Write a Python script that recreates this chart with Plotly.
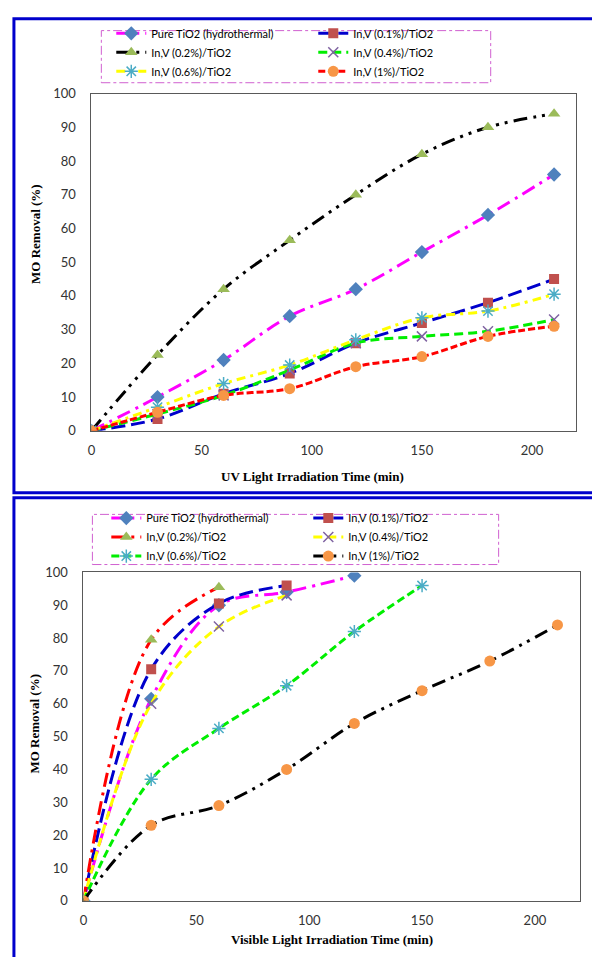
import plotly.graph_objects as go

# ---- data: MO removal (%) vs irradiation time (min) ----
series_names = ["Pure TiO2 (hydrothermal)", "In,V (0.1%)/TiO2", "In,V (0.2%)/TiO2",
                "In,V (0.4%)/TiO2", "In,V (0.6%)/TiO2", "In,V (1%)/TiO2"]

# UV light
uv_time = [0, 30, 60, 90, 120, 150, 180, 210]
uv_pure = [0, 10, 21, 34, 42, 53, 64, 76]
uv_01 = [0, 3.5, 11, 17, 26, 32, 38, 45]
uv_02 = [0, 22.5, 42, 56.5, 70, 82, 90, 94]
uv_04 = [0, 5, 10.5, 18, 26, 28, 29.5, 33]
uv_06 = [0, 7, 14, 19.5, 27, 33.5, 35.5, 40.5]
uv_1 = [0, 5.5, 10.5, 12.5, 19, 22, 28, 31]

# Visible light
vis_time_pure = [0, 30, 60, 90, 120]
vis_pure = [0, 61.5, 90, 94, 99]
vis_time_01 = [0, 30, 60, 90]
vis_01 = [0, 70.5, 90.5, 96]
vis_time_02 = [0, 30, 60]
vis_02 = [0, 79.5, 95.5]
vis_time_04 = [0, 30, 60, 90]
vis_04 = [0, 60, 83.5, 93]
vis_time_06 = [0, 30, 60, 90, 120, 150]
vis_06 = [0, 37, 52.5, 65.5, 82, 96]
vis_time_1 = [0, 30, 60, 90, 120, 150, 180, 210]
vis_1 = [0, 23, 29, 40, 54, 64, 73, 84]

y_ticks = list(range(0, 101, 10))
x_ticks = [0, 50, 100, 150, 200]

# ---- styles ----
W, H = 592, 957
MAGENTA, BLUE, BLACK, GREEN, YELLOW, RED = "#FF00FF", "#0000CC", "#000000", "#00EE00", "#FFFF00", "#FF0000"
DASH_DOT = "14px,6px,3px,6px"
LONG_DASH = "14px,6px"
LONG_DASH_DOT_DOT = "14px,6px,3px,6px,3px,6px"
DASH = "9px,5px"
SHORT_DASH = "7px,3px"

mk_diamond = dict(symbol="diamond", size=11, color="#4F81BD")
mk_square = dict(symbol="square", size=10, color="#C0504D")
mk_triangle = dict(symbol="triangle-up", size=11, color="#9BBB59")
mk_x = dict(symbol="x-thin", size=10, color="#8064A2", line=dict(color="#8064A2", width=1.5))
mk_star = dict(symbol="asterisk", size=11, color="#4BACC6", line=dict(color="#4BACC6", width=1.5))
mk_circle = dict(symbol="circle", size=11, color="#F79646")


def px_x(p):
    return p / W


def px_y(p):
    return 1 - p / H


fig = go.Figure()


def add(x, y, name, color, dash, marker, axis, legend):
    fig.add_trace(go.Scatter(
        x=x, y=y, name=name, mode="lines+markers",
        line=dict(color=color, width=3, dash=dash, shape="spline", smoothing=1),
        marker=marker, xaxis="x" + axis, yaxis="y" + axis, legend=legend,
    ))


# UV panel
add(uv_time, uv_pure, series_names[0], MAGENTA, DASH_DOT, mk_diamond, "", "legend")
add(uv_time, uv_01, series_names[1], BLUE, LONG_DASH, mk_square, "", "legend")
add(uv_time, uv_02, series_names[2], BLACK, LONG_DASH_DOT_DOT, mk_triangle, "", "legend")
add(uv_time, uv_04, series_names[3], GREEN, DASH, mk_x, "", "legend")
add(uv_time, uv_06, series_names[4], YELLOW, "9px,5px,3px,5px", mk_star, "", "legend")
add(uv_time, uv_1, series_names[5], RED, SHORT_DASH, mk_circle, "", "legend")

# Visible panel
add(vis_time_pure, vis_pure, series_names[0], MAGENTA, DASH_DOT, mk_diamond, "2", "legend2")
add(vis_time_01, vis_01, series_names[1], BLUE, LONG_DASH, mk_square, "2", "legend2")
add(vis_time_02, vis_02, series_names[2], RED, DASH_DOT, mk_triangle, "2", "legend2")
add(vis_time_04, vis_04, series_names[3], YELLOW, DASH, mk_x, "2", "legend2")
add(vis_time_06, vis_06, series_names[4], GREEN, "8px,4px", mk_star, "2", "legend2")
add(vis_time_1, vis_1, series_names[5], BLACK, LONG_DASH_DOT_DOT, mk_circle, "2", "legend2")

tick_font = dict(family="Lato, sans-serif", size=13, color="#333333")
axis_common = dict(showgrid=False, zeroline=False, showline=True, mirror=True,
                   linecolor="#595959", linewidth=1, ticks="", tickfont=tick_font)

legend_common = dict(orientation="h", entrywidth=157, entrywidthmode="pixels",
                     font=dict(family="Lato, sans-serif", size=11, color="#000000"),
                     bgcolor="rgba(0,0,0,0)", borderwidth=0, xanchor="left", yanchor="top",
                     itemclick=False, traceorder="normal", tracegroupgap=0)

title_font = dict(family="Liberation Serif, Times New Roman, serif", size=13, color="#000000")

fig.update_layout(
    width=W, height=H,
    margin=dict(l=0, r=0, t=0, b=0),
    paper_bgcolor="white", plot_bgcolor="white",
    xaxis=dict(domain=[px_x(88), px_x(576)], range=[0, 220], tickvals=x_ticks,
               ticklabelstandoff=8, anchor="y", **axis_common),
    yaxis=dict(domain=[px_y(430), px_y(87)], range=[0, 100], tickvals=y_ticks,
               ticklabelstandoff=12, anchor="x", **axis_common),
    xaxis2=dict(domain=[px_x(80), px_x(580)], range=[0, 220], tickvals=x_ticks,
                ticklabelstandoff=8, anchor="y2", **axis_common),
    yaxis2=dict(domain=[px_y(908), px_y(574)], range=[0, 100], tickvals=y_ticks,
                ticklabelstandoff=12, anchor="x2", **axis_common),
    legend=dict(x=px_x(108), y=px_y(11), **legend_common),
    legend2=dict(x=px_x(103), y=px_y(504), **legend_common),
    showlegend=True,
)

annotations = [
    dict(text="<b>MO Removal (%)</b>", x=px_x(31), y=px_y(230), textangle=-90),
    dict(text="<b>UV Light Irradiation Time (min)</b>", x=px_x(311), y=px_y(476)),
    dict(text="<b>MO Removal (%)</b>", x=px_x(31), y=px_y(728), textangle=-90),
    dict(text="<b>Visible Light Irradiation Time (min)</b>", x=px_x(330), y=px_y(947)),
]
for a in annotations:
    fig.add_annotation(xref="paper", yref="paper", showarrow=False, font=title_font,
                       xanchor="center", yanchor="middle", **a)

# panel frames and dashed legend boxes
fig.add_shape(type="rect", xref="paper", yref="paper", x0=px_x(10), x1=1.05,
              y0=px_y(493), y1=px_y(11), line=dict(color="#0000CC", width=3))
fig.add_shape(type="rect", xref="paper", yref="paper", x0=px_x(10), x1=1.05,
              y0=-0.05, y1=px_y(498), line=dict(color="#0000CC", width=3))
fig.add_shape(type="rect", xref="paper", yref="paper", x0=px_x(98), x1=px_x(490),
              y0=px_y(76), y1=px_y(23), line=dict(color="#D060D0", width=1, dash="dashdot"))
fig.add_shape(type="rect", xref="paper", yref="paper", x0=px_x(89), x1=px_x(498),
              y0=px_y(566), y1=px_y(515), line=dict(color="#D060D0", width=1, dash="dashdot"))

fig.write_html("out.html")
